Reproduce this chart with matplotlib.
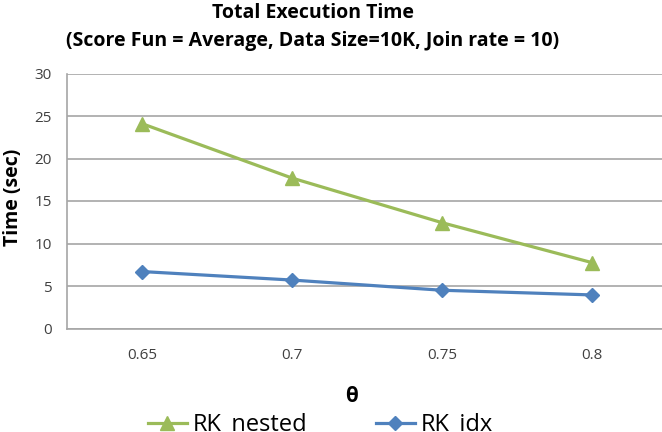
import numpy as np
import matplotlib as mpl
mpl.use('Agg')
import matplotlib.pyplot as plt

# data
theta = ['0.65', '0.7', '0.75', '0.8']
rk_nested = [24.1, 17.7, 12.45, 7.75]
rk_idx = [6.7, 5.7, 4.5, 3.95]

plt.rcParams['font.family'] = ['Open Sans', 'DejaVu Sans']

W, H = 662, 432
fig = plt.figure(figsize=(W / 100, H / 100), dpi=100)
# axes runs a little past the right edge, like the cropped original
ax = fig.add_axes([67 / W, 1 - 328.5 / H, 600 / W, 255 / H])

x = np.arange(len(theta))
ax.plot(x, rk_nested, color='#9bbb59', lw=2.3, marker='^', ms=10, label='RK_nested')
ax.plot(x, rk_idx, color='#4f81bd', lw=2.3, marker='D', ms=7, label='RK_idx')

ax.set_xlim(-0.5, 3.5)
ax.set_ylim(0, 30)
ax.set_yticks(range(0, 31, 5))
ax.set_xticks(x)
ax.set_xticklabels(theta)
ax.yaxis.grid(True, color='#a6a6a6', lw=1.2)
ax.set_axisbelow(True)
for s in ['top', 'right']:
    ax.spines[s].set_visible(False)
for s in ['left', 'bottom']:
    ax.spines[s].set_color('#a6a6a6')
    ax.spines[s].set_linewidth(1.2)
ax.tick_params(length=0, labelsize=11, colors='#404040')
ax.tick_params(axis='y', pad=11)
ax.tick_params(axis='x', pad=14)

fig.text(13 / W, 1 - 197 / H, 'Time (sec)', fontsize=14, fontweight='bold',
         rotation=90, ha='center', va='center')
fig.text(352 / W, 1 - 396 / H, 'θ', fontsize=15, fontweight='bold', ha='center', va='center')

fig.text(313 / W, 1 - 13 / H, 'Total Execution Time', fontsize=14, fontweight='bold',
         ha='center', va='center')
fig.text(313 / W, 1 - 41 / H, '(Score Fun = Average, Data Size=10K, Join rate = 10)',
         fontsize=14, fontweight='bold', ha='center', va='center')

fig.legend(loc='center left', bbox_to_anchor=(148 / W, 1 - 425 / H), ncol=2, frameon=False,
           fontsize=17, columnspacing=2.9, handlelength=1.65, handletextpad=0.25,
           borderpad=0, borderaxespad=0)

fig.savefig('out.png', dpi=100)
